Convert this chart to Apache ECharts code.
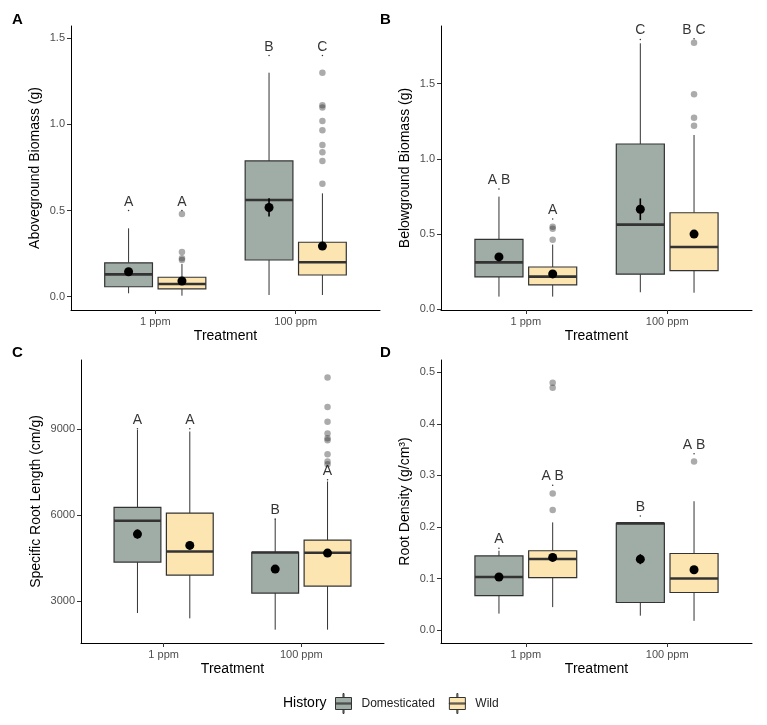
<!DOCTYPE html>
<html>
<head>
<meta charset="utf-8">
<script src="https://cdn.jsdelivr.net/npm/echarts@6/dist/echarts.min.js"></script>
<style>html,body{margin:0;padding:0;background:#fff}#chart{width:767px;height:725px}</style>
</head>
<body>
<div id="chart"></div>
<script>
// ---------------- DATA ----------------
const categories = ['1 ppm', '100 ppm'];
const historyGroups = ['Domesticated', 'Wild'];

// Box stats per category: [lower whisker, Q1, median, Q3, upper whisker]
// Panel A: Aboveground Biomass (g)
const aboveDomBox  = [[0.02, 0.058, 0.13, 0.197, 0.397], [0.01, 0.213, 0.561, 0.788, 1.30]];
const aboveWildBox = [[0.006, 0.046, 0.074, 0.113, 0.19], [0.01, 0.126, 0.20, 0.316, 0.60]];
const aboveDomMean = [0.145, 0.518];
const aboveDomSE   = [0.012, 0.053];
const aboveWildMean = [0.091, 0.294];
const aboveWildSE   = [0.010, 0.020];
const aboveDomOut  = [[], []];
const aboveWildOut = [[0.48, 0.26, 0.223, 0.213], [1.30, 1.111, 1.098, 1.02, 0.966, 0.88, 0.838, 0.788, 0.656]];
const aboveLetters = [['A', 'A'], ['B', 'C']];
const aboveLetterY = [[0.5, 0.5], [1.4, 1.4]];
const aboveTicks = [0, 0.5, 1.0, 1.5];

// Panel B: Belowground Biomass (g)
const belowDomBox  = [[0.084, 0.215, 0.312, 0.465, 0.749], [0.113, 0.233, 0.563, 1.099, 1.769]];
const belowWildBox = [[0.084, 0.162, 0.217, 0.281, 0.43], [0.11, 0.257, 0.414, 0.642, 1.159]];
const belowDomMean = [0.348, 0.665];
const belowDomSE   = [0.020, 0.072];
const belowWildMean = [0.235, 0.50];
const belowWildSE   = [0.012, 0.025];
const belowDomOut  = [[], []];
const belowWildOut = [[0.549, 0.536, 0.463], [1.773, 1.43, 1.274, 1.221]];
const belowLetters = [['A B', 'A'], ['C', 'B C']];
const belowLetterY = [[0.80, 0.60], [1.795, 1.80]];
const belowTicks = [0, 0.5, 1.0, 1.5];

// Panel C: Specific Root Length (cm/g)
const srlDomBox  = [[2582, 4358, 5797, 6261, 8965], [2002, 3279, 4694, 4694, 5855]];
const srlWildBox = [[2397, 3905, 4729, 6064, 8907], [2002, 3522, 4683, 5124, 7166]];
const srlDomMean = [5333, 4114];
const srlDomSE   = [160, 140];
const srlWildMean = [4938, 4671];
const srlWildSE   = [130, 120];
const srlDomOut  = [[], []];
const srlWildOut = [[], [10787, 9766, 9244, 8837, 8675, 8605, 8118, 7863, 7770]];
const srlLetters = [['A', 'A'], ['B', 'A']];
const srlLetterY = [[9000, 9000], [5855, 7224]];
const srlTicks = [3000, 6000, 9000];

// Panel D: Root Density (g/cm3)
const densDomBox  = [[0.032, 0.067, 0.103, 0.144, 0.154], [0.028, 0.0536, 0.207, 0.207, 0.207]];
const densWildBox = [[0.0446, 0.102, 0.138, 0.154, 0.209], [0.018, 0.073, 0.100, 0.1486, 0.25]];
const densDomMean = [0.103, 0.1376];
const densDomSE   = [0.005, 0.0097];
const densWildMean = [0.141, 0.117];
const densWildSE   = [0.006, 0.005];
const densDomOut  = [[], []];
const densWildOut = [[0.48, 0.47, 0.265, 0.233], [0.327]];
const densLetters = [['A', 'A B'], ['B', 'A B']];
const densLetterY = [[0.159, 0.281], [0.2216, 0.342]];
const densTicks = [0, 0.1, 0.2, 0.3, 0.4, 0.5];

// ---------------- LAYOUT / STYLE ----------------
const fills = ['#A0ADA6', '#FCE5B0'];
const groupOffset = [-0.19, 0.19];
const boxWidth = 0.34;
const FONT = '"Liberation Sans", Arial, sans-serif';

const panels = [
  { tag: 'A', title: 'Aboveground Biomass (g)', box: [aboveDomBox, aboveWildBox], mean: [aboveDomMean, aboveWildMean], se: [aboveDomSE, aboveWildSE], out: [aboveDomOut, aboveWildOut], letters: aboveLetters, letterY: aboveLetterY, ticks: aboveTicks, min: -0.077, max: 1.571, dec: 1,
    grid: { left: 71, top: 26, width: 309, height: 284 }, nameGap: 29, tagPos: [12, 12] },
  { tag: 'B', title: 'Belowground Biomass (g)', box: [belowDomBox, belowWildBox], mean: [belowDomMean, belowWildMean], se: [belowDomSE, belowWildSE], out: [belowDomOut, belowWildOut], letters: belowLetters, letterY: belowLetterY, ticks: belowTicks, min: -0.005, max: 1.884, dec: 1,
    grid: { left: 441, top: 26, width: 311, height: 284 }, nameGap: 29, tagPos: [380, 12] },
  { tag: 'C', title: 'Specific Root Length (cm/g)', box: [srlDomBox, srlWildBox], mean: [srlDomMean, srlWildMean], se: [srlDomSE, srlWildSE], out: [srlDomOut, srlWildOut], letters: srlLetters, letterY: srlLetterY, ticks: srlTicks, min: 1538, max: 11400, dec: 0,
    grid: { left: 81, top: 360, width: 303, height: 283 }, nameGap: 38, tagPos: [12, 345] },
  { tag: 'D', title: 'Root Density (g/cm\u00B3)', box: [densDomBox, densWildBox], mean: [densDomMean, densWildMean], se: [densDomSE, densWildSE], out: [densDomOut, densWildOut], letters: densLetters, letterY: densLetterY, ticks: densTicks, min: -0.025, max: 0.524, dec: 1,
    grid: { left: 441, top: 360, width: 311, height: 283 }, nameGap: 29, tagPos: [380, 345] }
];

function boxRenderer(offset, fill) {
  return function (params, api) {
    const x = api.value(0) + offset;
    const p = [1, 2, 3, 4, 5].map(d => api.coord([x, api.value(d)]));
    const w = api.size([boxWidth, 0])[0];
    const cx = p[0][0];
    return { type: 'group', children: [
      { type: 'line', shape: { x1: cx, y1: p[0][1], x2: cx, y2: p[1][1] }, style: { stroke: '#333', lineWidth: 1 } },
      { type: 'line', shape: { x1: cx, y1: p[3][1], x2: cx, y2: p[4][1] }, style: { stroke: '#333', lineWidth: 1 } },
      { type: 'rect', shape: { x: cx - w / 2, y: p[3][1], width: w, height: p[1][1] - p[3][1] }, style: { fill: fill, stroke: '#333', lineWidth: 1.2 } },
      { type: 'line', shape: { x1: cx - w / 2, y1: p[2][1], x2: cx + w / 2, y2: p[2][1] }, style: { stroke: '#333', lineWidth: 2.6 } }
    ] };
  };
}

function meanRenderer(offset) {
  return function (params, api) {
    const x = api.value(0) + offset;
    const m = api.coord([x, api.value(1)]);
    const lo = api.coord([x, api.value(1) - api.value(2)]);
    const hi = api.coord([x, api.value(1) + api.value(2)]);
    return { type: 'group', children: [
      { type: 'line', shape: { x1: m[0], y1: lo[1], x2: m[0], y2: hi[1] }, style: { stroke: '#000', lineWidth: 1.6 } },
      { type: 'circle', shape: { cx: m[0], cy: m[1], r: 4.5 }, style: { fill: '#000' } }
    ] };
  };
}

const grids = [], xAxes = [], yAxes = [], series = [], graphics = [];

panels.forEach((pn, i) => {
  grids.push(pn.grid);
  xAxes.push({
    type: 'value', gridIndex: i, min: 0.4, max: 2.6,
    axisLine: { show: true, onZero: false, lineStyle: { color: '#000', width: 1 } },
    axisTick: { show: true, customValues: [1, 2], length: 4, lineStyle: { color: '#333' } },
    axisLabel: { customValues: [1, 2], formatter: v => categories[Math.round(v) - 1], color: '#4d4d4d', fontSize: 11, margin: 6, fontFamily: FONT },
    splitLine: { show: false },
    name: 'Treatment', nameLocation: 'middle', nameGap: 19,
    nameTextStyle: { fontSize: 14, color: '#000', fontFamily: FONT }
  });
  yAxes.push({
    type: 'value', gridIndex: i, min: pn.min, max: pn.max,
    axisLine: { show: true, onZero: false, lineStyle: { color: '#000', width: 1 } },
    axisTick: { show: true, customValues: pn.ticks, length: 4, lineStyle: { color: '#333' } },
    axisLabel: { customValues: pn.ticks, formatter: v => v.toFixed(pn.dec), color: '#4d4d4d', fontSize: 11, margin: 6, fontFamily: FONT },
    splitLine: { show: false },
    name: pn.title, nameLocation: 'middle', nameGap: pn.nameGap,
    nameTextStyle: { fontSize: 14, color: '#000', fontFamily: FONT }
  });

  [0, 1].forEach(g => {
    series.push({
      type: 'custom', name: historyGroups[g], xAxisIndex: i, yAxisIndex: i,
      itemStyle: { color: fills[g] }, z: 2, silent: true,
      renderItem: boxRenderer(groupOffset[g], fills[g]),
      encode: { x: 0, y: [1, 2, 3, 4, 5] },
      data: pn.box[g].map((b, ci) => [ci + 1].concat(b))
    });
  });
  [0, 1].forEach(g => {
    const pts = [];
    pn.out[g].forEach((arr, ci) => arr.forEach(v => pts.push([ci + 1 + groupOffset[g], v])));
    series.push({
      type: 'scatter', name: 'outliers', xAxisIndex: i, yAxisIndex: i, z: 3, silent: true,
      symbolSize: 6.5, itemStyle: { color: 'rgba(45,45,45,0.5)' }, data: pts
    });
  });
  [0, 1].forEach(g => {
    series.push({
      type: 'custom', name: 'mean', xAxisIndex: i, yAxisIndex: i, z: 4, silent: true,
      renderItem: meanRenderer(groupOffset[g]),
      encode: { x: 0, y: 1 },
      data: pn.mean[g].map((m, ci) => [ci + 1, m, pn.se[g][ci]])
    });
  });
  const lab = [];
  pn.letters.forEach((row, ci) => row.forEach((t, g) => lab.push({ name: t, value: [ci + 1 + groupOffset[g], pn.letterY[ci][g]] })));
  series.push({
    type: 'scatter', name: 'letters', xAxisIndex: i, yAxisIndex: i, z: 5, silent: true,
    symbolSize: 1.5, itemStyle: { color: '#000' },
    label: { show: true, position: 'top', distance: 1, formatter: p => p.data.name, fontSize: 14, color: '#000', fontFamily: FONT },
    data: lab
  });

  graphics.push({ type: 'text', left: pn.tagPos[0], top: pn.tagPos[1], style: { text: pn.tag, font: 'bold 15px ' + FONT, fill: '#000' } });
});

graphics.push({ type: 'text', left: 283, top: 696, style: { text: 'History', font: '14px ' + FONT, fill: '#000' } });

const chart = echarts.init(document.getElementById('chart'), null, { renderer: 'canvas' });
chart.setOption({
  animation: false,
  backgroundColor: '#fff',
  textStyle: { fontFamily: FONT },
  grid: grids, xAxis: xAxes, yAxis: yAxes, series: series, graphic: graphics,
  legend: {
    data: historyGroups, left: 335, top: 693, padding: 0, itemWidth: 20, itemHeight: 20, itemGap: 14,
    icon: 'path://M9.5,0h1v4h-1z M2,4h16v12h-16z M9.5,16h1v4h-1z M2,9.5h16v1h-16z',
    itemStyle: { borderColor: '#333', borderWidth: 1 },
    textStyle: { fontSize: 12, color: '#222', padding: [0, 0, 0, 3] },
    selectedMode: false
  }
});
</script>
</body>
</html>
